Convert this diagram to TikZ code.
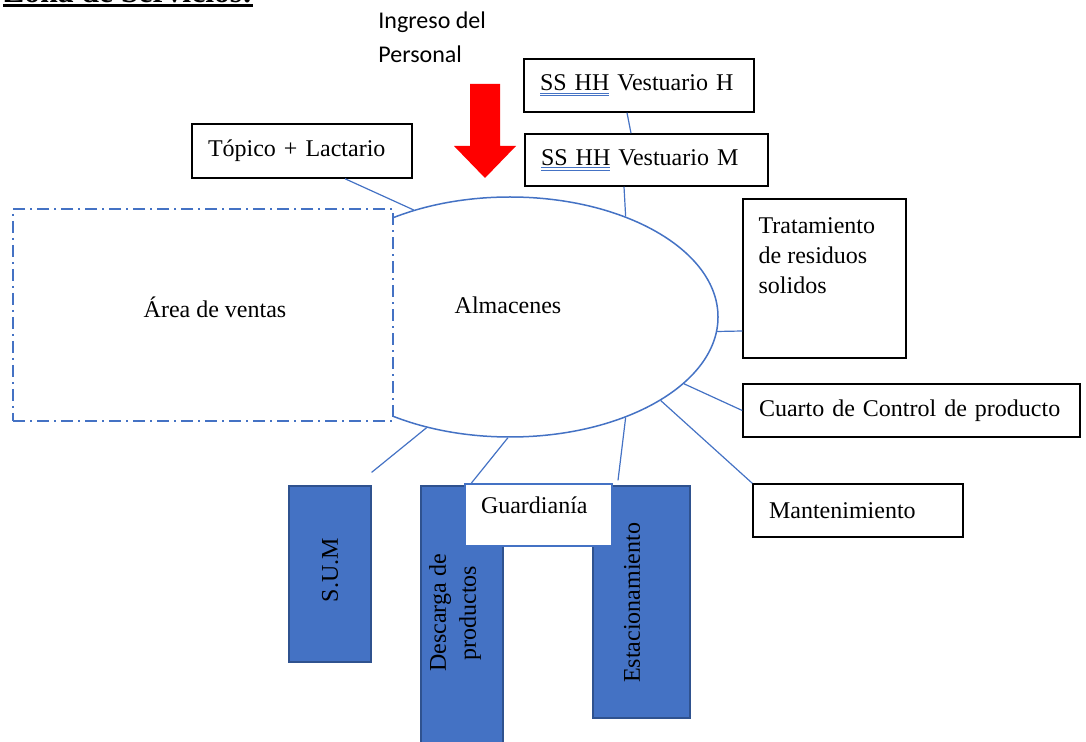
\documentclass[tikz,border=0pt]{standalone}
\usepackage{fontspec}
\setmainfont{Liberation Serif}
\newfontfamily\carlito{Carlito}
\usepackage{tikz}
\usetikzlibrary{positioning}
\usetikzlibrary{shapes.geometric}
\usepackage{xcolor}
\definecolor{azul}{RGB}{68,114,196}
\definecolor{azulosc}{RGB}{47,82,143}
\definecolor{rojo}{RGB}{255,0,0}
\newsavebox\ulbox
\newcommand{\grul}[1]{\sbox\ulbox{#1}\rlap{\usebox\ulbox}\rlap{\color{azul}\rule[-1.6pt]{\wd\ulbox}{0.45pt}}\rlap{\color{azul}\rule[-2.9pt]{\wd\ulbox}{0.45pt}}\hspace*{\wd\ulbox}}
\newcommand{\titul}[1]{\sbox\ulbox{#1}\usebox\ulbox\llap{\rule[-2.5pt]{\wd\ulbox}{1.5pt}}}

\begin{document}
\begin{tikzpicture}[x=0.5pt, y=-0.5pt,
		font=\fontsize{12}{15}\selectfont,
		caja/.style = {rectangle, draw=black, fill=white, line width=0.75pt, inner xsep=8pt, inner ysep=0pt, align=left},
		bloque/.style = {rectangle, draw=azulosc, fill=azul, line width=0.6pt, inner sep=0pt},
		vert/.style = {rotate=90, align=center, inner sep=0pt},
		lin/.style = {draw=azul, line width=0.6pt}
		]
		
		\useasboundingbox (0,0) rectangle (1086,742);
		
		%Nodes
		\node[anchor=base west, inner sep=0pt, font=\fontsize{15.8}{18}\selectfont\bfseries] (titulo) at (3,2.3) {\titul{Zona de Servicios:}};
		\node[anchor=north west, inner sep=0pt, align=left, font=\fontsize{12}{17}\selectfont\carlito] (ingreso) at (378,11) {Ingreso del\\Personal};
		
		\node[draw=azul, line width=0.75pt, ellipse, minimum width=208pt, minimum height=120pt, inner sep=0pt] (alm) at (510,317) {};
		\node[draw=azul, fill=white, line width=0.75pt, dash pattern=on 6pt off 2.5pt on 1pt off 2.5pt, minimum width=190pt, minimum height=106pt] (ventas) at (203,315) {};
		\node (ventastxt) at (215,307) {Área de ventas};
		\node (almtxt) at (508,305) {Almacenes};
		
		\node[caja, text width=99pt, minimum height=26.5pt] (vesth) at (639,85.5) {\grul{SS HH} Vestuario H};
		\node[caja, text width=105.5pt, minimum height=26pt] (vestm) at (646.5,160) {\grul{SS HH} Vestuario M};
		\node[caja, text width=94pt, minimum height=27pt] (topico) at (302,151) {Tópico + Lactario};
		\node[caja, minimum width=81.5pt, minimum height=79.5pt, label={[anchor=north west, align=left, inner sep=8pt, yshift=-1.5pt]north west:{Tratamiento\\de residuos\\solidos}}] (trat) at (824.5,278.5) {};
		\node[caja, text width=152.5pt, minimum height=26.5pt] (cuarto) at (911.5,410.5) {Cuarto de Control de producto};
		\node[caja, text width=89pt, minimum height=26.5pt] (mant) at (858,510.5) {Mantenimiento};
		
		\node[bloque, minimum width=41pt, minimum height=88pt] (sum) at (330,574) {};
		\node[bloque, minimum width=41pt, minimum height=130pt] (desc) at (462,616) {};
		\node[bloque, minimum width=48.5pt, minimum height=116pt] (est) at (641.5,602) {};
		\node[caja, draw=azul, text width=57.5pt, text depth=10pt, minimum height=31pt] (guard) at (538.5,515) {Guardianía};
		\node[vert] (sumtxt) at (330,570) {S.U.M};
		\node[vert] (desctxt) at (455,613) {Descarga de\\productos};
		\node[vert] (esttxt) at (632,603) {Estacionamiento};
		
		%Arrow
		\fill[rojo] (470,84) -- (500,84) -- (500,146) -- (516,146) -- (485,178) -- (454,146) -- (470,146) -- cycle;
		
		%Lines
		\draw[lin] ([xshift=21.5pt]topico.south) -- (alm.132);
		\draw[lin] ([xshift=-6pt]vesth.south) -- ([xshift=-7.75pt]vestm.north);
		\draw[lin] ([xshift=-11.25pt]vestm.south) -- (alm.41);
		\draw[lin] (alm.-4) -- ([yshift=-26.25pt]trat.west);
		\draw[lin] (alm.-21) -- (cuarto.west);
		\draw[lin] (alm.-29) -- (mant.north west);
		\draw[lin] (alm.-41) -- ([xshift=-11.75pt, yshift=2.5pt]est.north);
		\draw[lin] (alm.-91) -- ([xshift=3.5pt]guard.north west);
		\draw[lin] (alm.-127) -- ([yshift=6.5pt]sum.north east);
	\end{tikzpicture}
\end{document}
